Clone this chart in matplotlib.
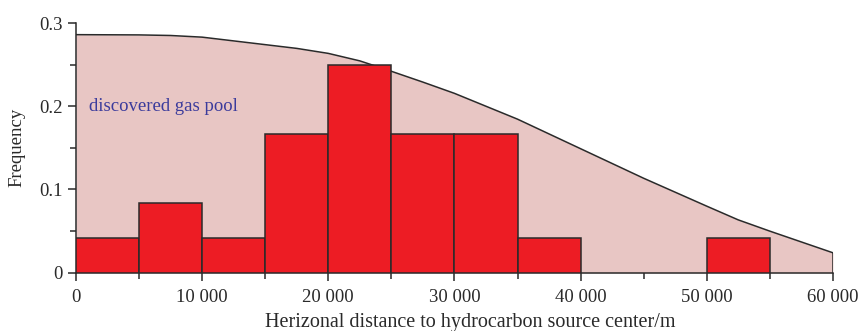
import matplotlib

matplotlib.use("Agg")
import matplotlib.pyplot as plt
from matplotlib.ticker import FuncFormatter, MultipleLocator

plt.rcParams["font.family"] = ["Liberation Serif", "DejaVu Serif"]

# Histogram of discovered gas pools (bin edges in metres, frequency per bin)
bin_left = [0, 5000, 10000, 15000, 20000, 25000, 30000, 35000, 50000]
bin_freq = [0.0417, 0.0833, 0.0417, 0.1667, 0.25, 0.1667, 0.1667, 0.0417, 0.0417]
bin_width = 5000

# Envelope curve (probability vs. distance)
curve_x = [0, 5000, 7500, 10000, 12500, 15000, 17500, 20000, 22500, 25000,
           27500, 30000, 35000, 40000, 45000, 50000, 52500, 55000, 57500, 60000]
curve_y = [0.286, 0.2857, 0.285, 0.283, 0.2785, 0.274, 0.2695, 0.2635, 0.2545,
           0.242, 0.229, 0.2155, 0.1845, 0.149, 0.1135, 0.080, 0.0635, 0.050,
           0.037, 0.024]

fig = plt.figure(figsize=(8.62, 3.31), dpi=100)
ax = fig.add_axes([0.0882, 0.176, 0.878, 0.7545])

ax.fill_between(curve_x, 0, curve_y, color="#e8c6c4", linewidth=0, zorder=1)
ax.plot(curve_x, curve_y, color="#2a2a2a", linewidth=1.1, zorder=2)
ax.plot([curve_x[-1], curve_x[-1]], [0, curve_y[-1]], color="#2a2a2a",
        linewidth=1.1, zorder=2)

ax.bar(bin_left, bin_freq, width=bin_width, align="edge", color="#ed1c24",
       edgecolor="#2a2a2a", linewidth=1.1, zorder=3)

ax.text(1000, 0.2, "discovered gas pool", color="#3b3b9c", fontsize=13.5,
        va="center", ha="left", zorder=4)

ax.set_xlim(0, 60000)
ax.set_ylim(0, 0.3)
ax.xaxis.set_major_locator(MultipleLocator(10000))
ax.xaxis.set_minor_locator(MultipleLocator(5000))
ax.yaxis.set_major_locator(MultipleLocator(0.1))
ax.yaxis.set_minor_locator(MultipleLocator(0.05))
ax.xaxis.set_major_formatter(FuncFormatter(
    lambda v, _: "0" if v == 0 else f"{int(v):,}".replace(",", " ")))
ax.yaxis.set_major_formatter(FuncFormatter(
    lambda v, _: "0" if abs(v) < 1e-9 else f"{v:.1f}"))

for side in ("top", "right"):
    ax.spines[side].set_visible(False)
for side in ("left", "bottom"):
    ax.spines[side].set_color("#2a2a2a")
    ax.spines[side].set_linewidth(1.1)

ax.tick_params(which="major", direction="out", length=6, width=1.1,
               color="#2a2a2a", labelsize=13.5, labelcolor="#2a2a2a")
ax.tick_params(which="minor", direction="out", length=4, width=1.1,
               color="#2a2a2a")
ax.tick_params(axis="x", pad=6)

ax.set_xlabel("Herizonal distance to hydrocarbon source center/m", fontsize=14.5,
              color="#2a2a2a")
ax.xaxis.set_label_coords(0.521, -0.162)
ax.set_ylabel("Frequency", fontsize=13.5, color="#2a2a2a", labelpad=10)

fig.savefig("out.png", dpi=100)
